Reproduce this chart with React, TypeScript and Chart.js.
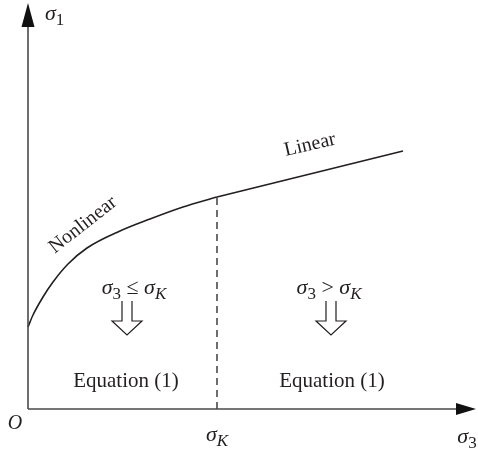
import React, { useEffect, useRef } from "react";
import { Chart, registerables } from "chart.js";

Chart.register(...registerables);

// Strength envelope: nonlinear branch up to the knee, then a straight branch.
const nonlinearX = [0, 5, 15, 25, 40, 59, 92, 122, 155, 189];
const nonlinearY = [82, 94, 112, 127, 145, 161, 178, 190, 202, 212];
const linearX = [189, 375];
const linearY = [212, 258];

// Transition confining stress σK and the axis extents.
const kneeX = 189;
const kneeY = 212;
const axisXMax = 450;
const axisYMax = 409;
const axisXEnd = 448;
const axisYEnd = 406;

const INK = "#231f20";
const SERIF = '"Liberation Serif", "DejaVu Serif", serif';

type Part = { t: string; italic?: boolean; sub?: boolean };

function drawParts(
  ctx: CanvasRenderingContext2D,
  parts: Part[],
  cx: number,
  cy: number,
  size: number,
  align: "center" | "left" = "center"
) {
  const subSize = Math.round(size * 0.75);
  const fontFor = (p: Part) =>
    `${p.italic ? "italic " : ""}${p.sub ? subSize : size}px ${SERIF}`;
  let total = 0;
  const widths = parts.map((p) => {
    ctx.font = fontFor(p);
    const w = ctx.measureText(p.t).width;
    total += w;
    return w;
  });
  let x = align === "center" ? cx - total / 2 : cx;
  ctx.textBaseline = "middle";
  ctx.textAlign = "left";
  parts.forEach((p, i) => {
    ctx.font = fontFor(p);
    ctx.fillText(p.t, x, p.sub ? cy + size * 0.28 : cy);
    x += widths[i];
  });
}

function drawRotated(
  ctx: CanvasRenderingContext2D,
  text: string,
  cx: number,
  cy: number,
  deg: number,
  size: number
) {
  ctx.save();
  ctx.translate(cx, cy);
  ctx.rotate((deg * Math.PI) / 180);
  ctx.font = `${size}px ${SERIF}`;
  ctx.textAlign = "center";
  ctx.textBaseline = "middle";
  ctx.fillText(text, 0, 0);
  ctx.restore();
}

// Outline "down" arrow with two stems and an open top.
function drawDownArrow(ctx: CanvasRenderingContext2D, cx: number, top: number, tip: number) {
  const stemHalf = 5;
  const headHalf = 15;
  const headH = 14;
  const base = tip - headH;
  ctx.save();
  ctx.strokeStyle = INK;
  ctx.lineWidth = 1.2;
  ctx.beginPath();
  ctx.moveTo(cx - stemHalf, top);
  ctx.lineTo(cx - stemHalf, base);
  ctx.lineTo(cx - headHalf, base);
  ctx.lineTo(cx, tip);
  ctx.lineTo(cx + headHalf, base);
  ctx.lineTo(cx + stemHalf, base);
  ctx.lineTo(cx + stemHalf, top);
  ctx.stroke();
  ctx.restore();
}

const SIGMA_CMP = (op: string): Part[] => [
  { t: "σ", italic: true },
  { t: "3", sub: true },
  { t: ` ${op} ` },
  { t: "σ", italic: true },
  { t: "K", italic: true, sub: true },
];

const diagramPlugin = {
  id: "diagram",
  afterDatasetsDraw(chart: any) {
    const ctx: CanvasRenderingContext2D = chart.ctx;
    const xs = chart.scales.x;
    const ys = chart.scales.y;
    const px = (v: number) => xs.getPixelForValue(v);
    const py = (v: number) => ys.getPixelForValue(v);
    const ox = px(0);
    const oy = py(0);

    ctx.save();
    // axes
    ctx.strokeStyle = "#4a4a4a";
    ctx.lineWidth = 1.6;
    ctx.beginPath();
    ctx.moveTo(ox, oy);
    ctx.lineTo(px(axisXEnd) - 18, oy);
    ctx.moveTo(ox, oy);
    ctx.lineTo(ox, py(axisYEnd) + 20);
    ctx.stroke();

    ctx.fillStyle = "#111";
    // x arrow head
    const xt = px(axisXEnd);
    ctx.beginPath();
    ctx.moveTo(xt, oy);
    ctx.lineTo(xt - 20, oy - 6);
    ctx.lineTo(xt - 20, oy + 6);
    ctx.closePath();
    ctx.fill();
    // y arrow head
    const yt = py(axisYEnd);
    ctx.beginPath();
    ctx.moveTo(ox, yt);
    ctx.lineTo(ox - 6.5, yt + 24);
    ctx.lineTo(ox + 6.5, yt + 24);
    ctx.closePath();
    ctx.fill();

    ctx.fillStyle = INK;
    // axis labels
    drawParts(ctx, [{ t: "σ", italic: true }, { t: "1", sub: true }], ox + 17, py(395), 22, "left");
    drawParts(ctx, [{ t: "O", italic: true }], ox - 13, oy + 15, 20);
    drawParts(ctx, [{ t: "σ", italic: true }, { t: "K", italic: true, sub: true }], px(kneeX), oy + 26, 22);
    drawParts(ctx, [{ t: "σ", italic: true }, { t: "3", sub: true }], px(439), oy + 28, 22);

    // branch labels
    drawRotated(ctx, "Linear", px(282), py(264), -13, 20);
    drawRotated(ctx, "Nonlinear", px(55), py(184), -38, 20);

    // region conditions
    drawParts(ctx, SIGMA_CMP("≤"), px(106), py(121), 22);
    drawParts(ctx, SIGMA_CMP(">"), px(301), py(121), 22);
    drawDownArrow(ctx, px(99), py(108), py(74));
    drawDownArrow(ctx, px(303), py(108), py(74));

    drawParts(ctx, [{ t: "Equation (1)" }], px(98), py(28), 21);
    drawParts(ctx, [{ t: "Equation (1)" }], px(304), py(28), 21);
    ctx.restore();
  },
};

export default function App() {
  const canvasRef = useRef<HTMLCanvasElement>(null);

  useEffect(() => {
    if (!canvasRef.current) return;
    const chart = new Chart(canvasRef.current, {
      type: "line",
      data: {
        datasets: [
          {
            data: nonlinearX.map((x, i) => ({ x, y: nonlinearY[i] })),
            borderColor: INK,
            borderWidth: 1.6,
            pointRadius: 0,
            cubicInterpolationMode: "monotone",
            clip: false,
          },
          {
            data: linearX.map((x, i) => ({ x, y: linearY[i] })),
            borderColor: INK,
            borderWidth: 1.6,
            pointRadius: 0,
            clip: false,
          },
          {
            data: [
              { x: kneeX, y: 0 },
              { x: kneeX, y: kneeY },
            ],
            borderColor: INK,
            borderWidth: 1.3,
            borderDash: [7, 5],
            pointRadius: 0,
            clip: false,
          },
        ] as any,
      },
      options: {
        animation: false,
        responsive: false,
        events: [],
        layout: { padding: { left: 28, right: 0, top: 0, bottom: 40 } },
        plugins: { legend: { display: false }, tooltip: { enabled: false } },
        scales: {
          x: { type: "linear", min: 0, max: axisXMax, display: false },
          y: { type: "linear", min: 0, max: axisYMax, display: false },
        },
      },
      plugins: [diagramPlugin],
    });
    return () => chart.destroy();
  }, []);

  return (
    <div style={{ position: "fixed", left: 0, top: 0, width: 478, height: 449, background: "#fff" }}>
      <canvas ref={canvasRef} width={478} height={449} />
    </div>
  );
}
